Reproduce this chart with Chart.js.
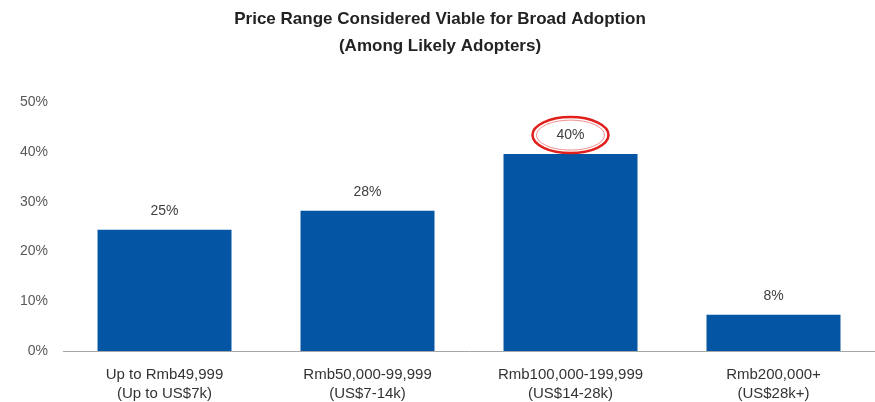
<!DOCTYPE html>
<html>
<head>
<meta charset="utf-8">
<script src="https://cdn.jsdelivr.net/npm/chart.js@4"></script>
<style>
  body { margin: 0; background: #fff; }
  #box { width: 875px; height: 402px; }
</style>
</head>
<body>
<div id="box"><canvas id="grafico"></canvas></div>
<script>
// dados do grafico
const categorias = [
  ['Up to Rmb49,999', '(Up to US$7k)'],
  ['Rmb50,000-99,999', '(US$7-14k)'],
  ['Rmb100,000-199,999', '(US$14-28k)'],
  ['Rmb200,000+', '(US$28k+)']
];
const valores = [24.4, 28.2, 39.6, 7.3];
const rotulos = ['25%', '28%', '40%', '8%'];
const ticksY = [0, 10, 20, 30, 40, 50];
const destaque = 2; // barra com circulo vermelho

const fonte = "'Liberation Sans Narrow', 'Liberation Sans', Arial, sans-serif";

// rotulos acima das barras + elipse vermelha
const rotulosPlugin = {
  id: 'rotulos',
  afterDatasetsDraw(chart) {
    const ctx = chart.ctx;
    const meta = chart.getDatasetMeta(0);
    ctx.save();
    ctx.font = '14px ' + fonte;
    ctx.fillStyle = '#404040';
    ctx.textAlign = 'center';
    ctx.textBaseline = 'middle';
    meta.data.forEach(function (bar, i) {
      const y = bar.y - 19;
      ctx.fillText(rotulos[i], bar.x, y);
      if (i === destaque) {
        ctx.strokeStyle = '#e0201c';
        ctx.lineWidth = 2.5;
        ctx.beginPath();
        ctx.ellipse(bar.x, y, 38, 18, 0, 0, Math.PI * 2);
        ctx.stroke();
        ctx.strokeStyle = 'rgba(224,32,28,0.5)';
        ctx.lineWidth = 1;
        ctx.beginPath();
        ctx.ellipse(bar.x, y, 34, 15, 0, 0, Math.PI * 2);
        ctx.stroke();
      }
    });
    ctx.restore();
  }
};

let grafico = document.getElementById('grafico').getContext('2d');

let chart = new Chart(grafico, {
  type: 'bar',
  data: {
    labels: categorias,
    datasets: [{
      data: valores,
      backgroundColor: '#0455a4',
      barPercentage: 0.66,
      categoryPercentage: 1
    }]
  },
  options: {
    responsive: true,
    maintainAspectRatio: false,
    animation: false,
    layout: { padding: { left: 5, right: 0, top: 0, bottom: -16 } },
    plugins: {
      legend: { display: false },
      tooltip: { enabled: false },
      title: {
        display: true,
        text: ['Price Range Considered Viable for Broad Adoption', '(Among Likely Adopters)'],
        color: '#222',
        font: { family: fonte, size: 17, weight: 'bold', lineHeight: 1.6 },
        padding: { top: 6, bottom: 42 }
      }
    },
    scales: {
      x: {
        grid: { display: false, drawTicks: false },
        border: { display: true, color: '#a6a6a6', width: 1 },
        ticks: {
          color: '#333',
          font: { family: fonte, size: 15, lineHeight: 1.3 },
          padding: 14,
          maxRotation: 0
        }
      },
      y: {
        min: 0,
        max: 50,
        grid: { display: false, drawTicks: false },
        border: { display: false },
        afterBuildTicks(axis) {
          axis.ticks = ticksY.map(v => ({ value: v }));
        },
        ticks: {
          color: '#595959',
          font: { family: fonte, size: 14 },
          padding: 15,
          callback: v => v + '%'
        }
      }
    }
  },
  plugins: [rotulosPlugin]
});
</script>
</body>
</html>
